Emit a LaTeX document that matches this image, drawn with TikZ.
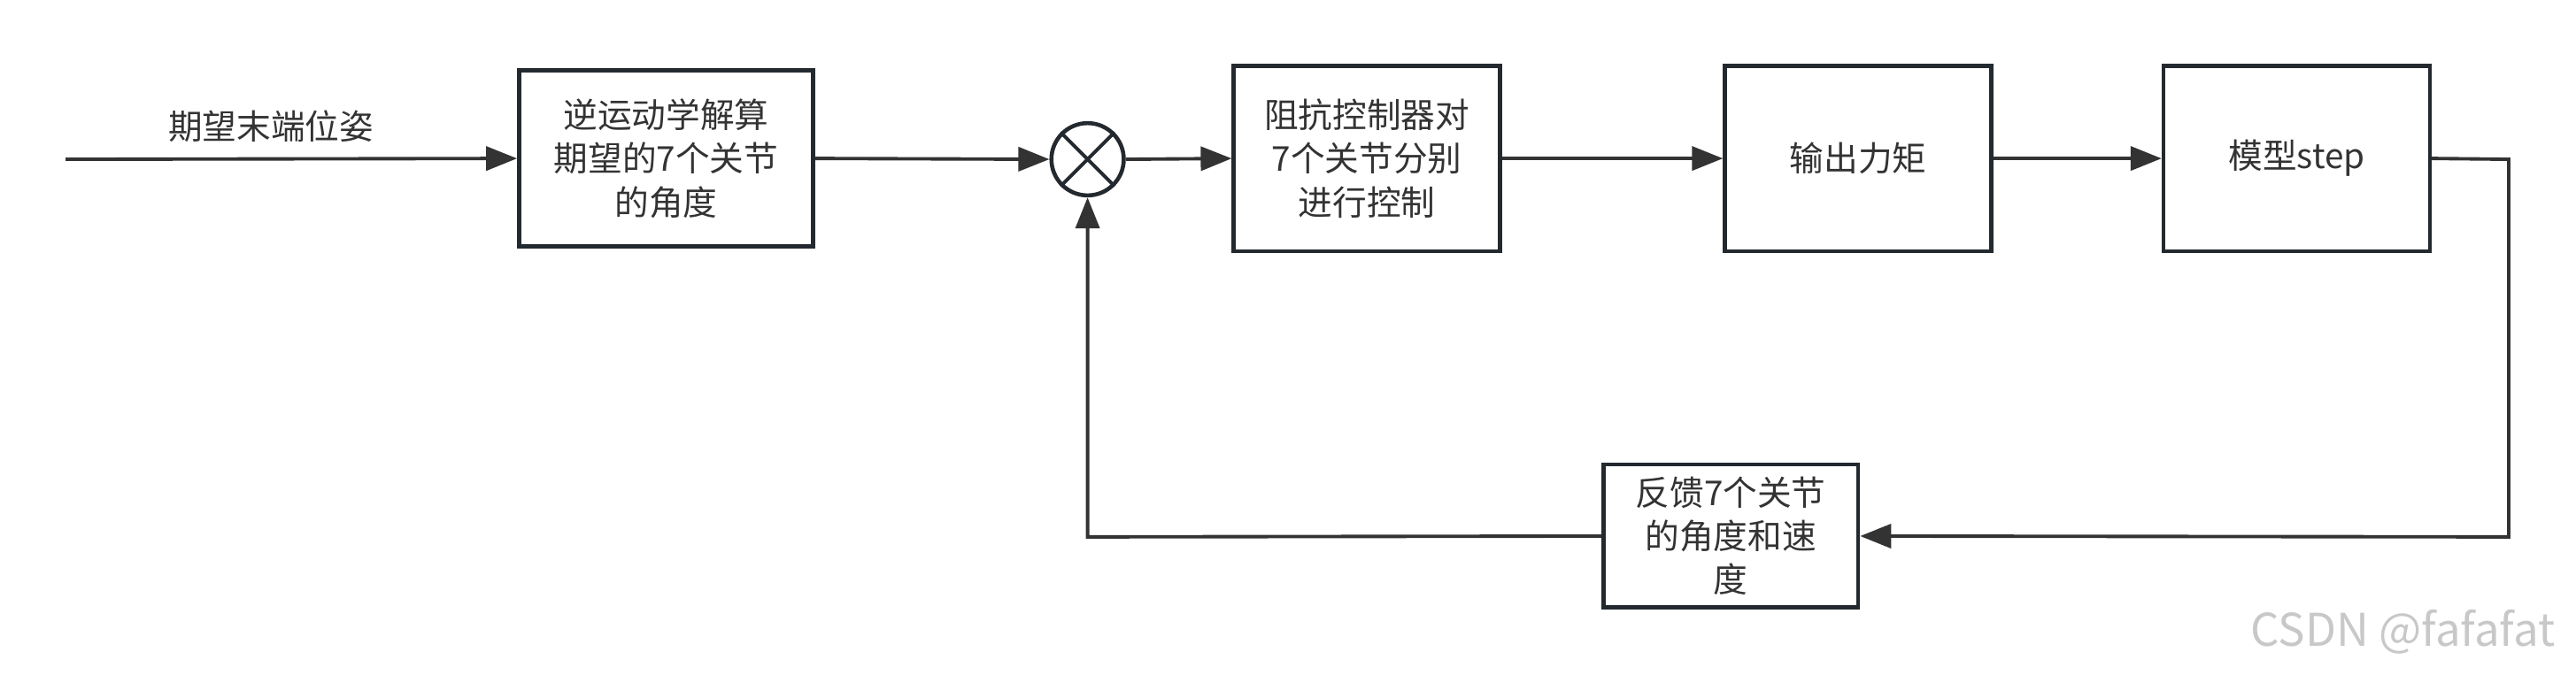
\documentclass[tikz,border=0pt]{standalone}
\usepackage{fontspec}
\setmainfont{Noto Sans CJK SC}
\usetikzlibrary{arrows.meta}
\definecolor{boxc}{HTML}{23292F}
\definecolor{linec}{HTML}{333333}
\definecolor{wm}{HTML}{C8C8C8}
\begin{document}
\begin{tikzpicture}[x=0.01856cm,y=-0.01856cm,
  every node/.style={font=\fontsize{11pt}{14pt}\selectfont, text=linec},
  blk/.style={draw=boxc, line width=1.3pt, rectangle, inner sep=0pt, align=center, minimum width=3.007cm, minimum height=2.097cm},
  sumc/.style={draw=boxc, line width=1.3pt, circle, inner sep=0pt, minimum size=0.817cm},
  conn/.style={draw=linec, line width=1.1pt, -{Triangle[length=0.35cm,width=0.27cm]}},
  plain/.style={draw=linec, line width=1.1pt}]
\useasboundingbox (0,0) rectangle (1568,411);
\coordinate (in) at (40,97);
\node (lab) at (165,77) {期望末端位姿};
\node[blk, minimum width=3.322cm, minimum height=1.986cm] (ik) at (405.5,96.5) {逆运动学解算\\期望的7个关节\\的角度};
\node[sumc] (sum) at (662,97) {};
\draw[boxc, line width=1.1pt] (sum.45) -- (sum.225) (sum.135) -- (sum.315);
\node[blk] (imp) at (832,96.5) {阻抗控制器对\\7个关节分别\\进行控制};
\node[blk] (tau) at (1131,96.5) {输出力矩};
\node[blk] (mdl) at (1398,96.5) {模型step};
\node[blk, minimum width=2.877cm, minimum height=1.615cm] (fb) at (1053.5,326.5) {反馈7个关节\\的角度和速\\度};
\coordinate (c1) at (1527,97);
\coordinate (c2) at (1527,327);
\coordinate (c3) at (662,327);
\draw[conn] (in) -- (ik.west);
\draw[conn] (ik.east) -- (sum.west);
\draw[conn] (sum.east) -- (imp.west);
\draw[conn] (imp.east) -- (tau.west);
\draw[conn] (tau.east) -- (mdl.west);
\draw[conn] (mdl.east) -- (c1) -- (c2) -- (fb.east);
\draw[conn] (fb.west) -- (c3) -- (sum.south);
\node[text=wm, font=\fontsize{14.5pt}{16pt}\selectfont, anchor=east] (wmk) at (1562,385) {CSDN @fafafat};
\end{tikzpicture}
\end{document}
